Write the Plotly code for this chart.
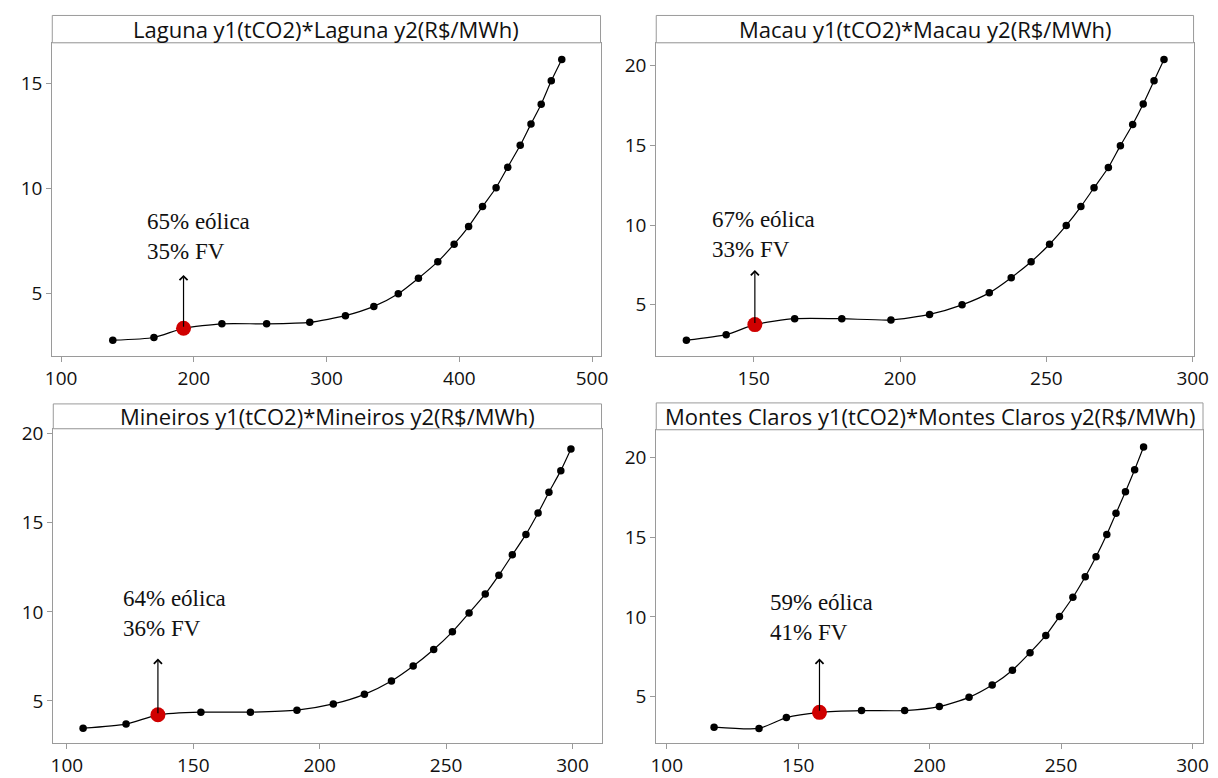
import plotly.graph_objects as go

# ---------------- data ----------------
titles = [
    "Laguna y1(tCO2)*Laguna y2(R$/MWh)",
    "Macau y1(tCO2)*Macau y2(R$/MWh)",
    "Mineiros y1(tCO2)*Mineiros y2(R$/MWh)",
    "Montes Claros y1(tCO2)*Montes Claros y2(R$/MWh)",
]

laguna_x = [138.9, 169.9, 192.2, 221.1, 254.8, 287.3, 314.2, 335.6, 354.0, 369.2, 383.8,
            396.1, 407.0, 417.5, 427.7, 436.5, 445.9, 454.0, 461.7, 469.3, 477.2]
laguna_y = [2.76, 2.89, 3.33, 3.54, 3.54, 3.61, 3.93, 4.37, 4.97, 5.71, 6.50,
            7.33, 8.17, 9.13, 10.02, 11.00, 12.04, 13.06, 14.00, 15.11, 16.13]

macau_x = [127.0, 140.6, 150.4, 164.0, 180.1, 196.9, 210.1, 221.2, 230.5, 238.0, 244.8,
           251.1, 256.8, 261.8, 266.3, 271.2, 275.3, 279.5, 283.1, 286.8, 290.2]
macau_y = [2.78, 3.13, 3.76, 4.13, 4.13, 4.05, 4.40, 5.00, 5.75, 6.70, 7.70,
           8.80, 9.98, 11.16, 12.34, 13.61, 14.98, 16.31, 17.59, 19.05, 20.39]

mineiros_x = [106.4, 123.4, 136.0, 153.0, 172.6, 191.0, 205.4, 217.7, 228.4, 237.0, 245.1,
              252.5, 259.1, 265.5, 270.9, 276.2, 281.6, 286.4, 290.7, 295.4, 299.4]
mineiros_y = [3.47, 3.70, 4.22, 4.37, 4.37, 4.48, 4.83, 5.37, 6.12, 6.96, 7.89,
              8.88, 9.94, 11.00, 12.06, 13.20, 14.35, 15.55, 16.72, 17.93, 19.14]

montes_x = [118.0, 135.1, 145.5, 158.1, 174.1, 190.5, 203.7, 215.0, 223.8, 231.5, 238.2,
            244.2, 249.4, 254.5, 259.2, 263.3, 267.4, 270.9, 274.5, 278.0, 281.4]
montes_y = [3.09, 3.01, 3.69, 4.02, 4.13, 4.13, 4.38, 4.96, 5.73, 6.66, 7.76,
            8.84, 10.03, 11.23, 12.52, 13.77, 15.16, 16.49, 17.84, 19.23, 20.65]

highlight_index = [2, 2, 2, 3]
mix_labels = ["65% eólica<br>35% FV", "67% eólica<br>33% FV",
              "64% eólica<br>36% FV", "59% eólica<br>41% FV"]
arrow_top = [5.87, 7.18, 7.38, 7.39]
label_x = [163.5, 135.2, 121.5, 138.6]
label_y = [7.68, 9.41, 9.90, 9.99]

x_ranges = [[93.3, 506.4], [116.7, 300.3], [94.6, 311.5], [96.0, 304.0]]
y_ranges = [[2.0, 16.92], [1.78, 21.43], [2.63, 20.28], [2.09, 21.73]]
x_ticks = [[100, 200, 300, 400, 500], [150, 200, 250, 300],
           [100, 150, 200, 250, 300], [100, 150, 200, 250, 300]]
y_ticks = [[5, 10, 15], [5, 10, 15, 20], [5, 10, 15, 20], [5, 10, 15, 20]]

series_x = [laguna_x, macau_x, mineiros_x, montes_x]
series_y = [laguna_y, macau_y, mineiros_y, montes_y]

# ---------------- layout geometry ----------------
W, H = 1218, 778
# effective drawn paper in the photographed page (measured): origin and size
OX, OY, PW, PH = 1.5, 8.0, 1202.0, 762.0


def fx(px):
    return (px - OX) / PW


def fy(py):
    return 1 - (py - OY) / PH


# target pixel boxes: (left, right, plot_top(strip bottom), plot_bottom, strip_top)
boxes = [
    (47, 598, 43, 358, 15.5),
    (654, 1194, 43, 358, 15.5),
    (48, 599, 431, 747, 406),
    (654, 1205, 432, 747, 405),
]

AX_COLOR = "#9a9a9a"
SANS = "Open Sans, Noto Sans, sans-serif"
TICK_FONT = dict(family=SANS, size=19, color="#111111")

fig = go.Figure()
shapes = []
annotations = []

for i in range(4):
    xs, ys = series_x[i], series_y[i]
    xa = "x" if i == 0 else f"x{i+1}"
    ya = "y" if i == 0 else f"y{i+1}"
    fig.add_trace(go.Scatter(
        x=xs, y=ys, mode="lines+markers", xaxis=xa, yaxis=ya,
        line=dict(color="black", width=1.2, shape="spline", smoothing=0.6),
        marker=dict(color="black", size=7.5), showlegend=False, hoverinfo="x+y"))
    k = highlight_index[i]
    fig.add_trace(go.Scatter(
        x=[xs[k]], y=[ys[k]], mode="markers", xaxis=xa, yaxis=ya,
        marker=dict(color="#d00000", size=15), showlegend=False))

    l, r, pt, pb, st = boxes[i]
    xd = [max(0, fx(l)), min(1, fx(r))]
    yd = [max(0, fy(pb)), min(1, fy(pt))]
    axis_common = dict(showline=True, linecolor=AX_COLOR, linewidth=1, mirror=True,
                       showgrid=False, zeroline=False, ticks="outside", ticklen=5,
                       tickcolor=AX_COLOR, tickfont=TICK_FONT)
    fig.update_layout(**{
        ("xaxis" if i == 0 else f"xaxis{i+1}"): dict(
            domain=xd, range=x_ranges[i], tickvals=x_ticks[i], anchor=ya, **axis_common),
        ("yaxis" if i == 0 else f"yaxis{i+1}"): dict(
            domain=yd, range=y_ranges[i], tickvals=y_ticks[i], anchor=xa, **axis_common),
    })

    # title strip
    shapes.append(dict(type="rect", xref="paper", yref="paper",
                       x0=xd[0], x1=xd[1], y0=yd[1], y1=min(1, fy(st)),
                       line=dict(color=AX_COLOR, width=1), fillcolor="white"))
    annotations.append(dict(xref="paper", yref="paper", x=(xd[0] + xd[1]) / 2,
                            y=(yd[1] + min(1, fy(st))) / 2, text=titles[i], showarrow=False,
                            xanchor="center", yanchor="middle",
                            font=dict(family=SANS, size=22, color="#111111")))
    # arrow from highlighted point upward
    annotations.append(dict(xref=xa, yref=ya, axref=xa, ayref=ya,
                            x=xs[k], y=arrow_top[i], ax=xs[k], ay=ys[k],
                            showarrow=True, arrowhead=4, arrowsize=1.3, arrowwidth=1.2,
                            arrowcolor="black", text="", standoff=0, startstandoff=0))
    # mix label
    annotations.append(dict(xref=xa, yref=ya, x=label_x[i], y=label_y[i],
                            text=mix_labels[i], showarrow=False, xanchor="left",
                            yanchor="middle", align="left",
                            font=dict(family="Liberation Serif, Times New Roman, serif",
                                      size=23, color="#111111")))

fig.update_layout(width=W, height=H, autosize=False,
                  margin=dict(l=0, r=0, t=0, b=0, pad=0),
                  plot_bgcolor="white", paper_bgcolor="white",
                  shapes=shapes, annotations=annotations)

fig.write_html("out.html", config={"displayModeBar": False},
               post_script="document.body.style.margin='0';"
                           "document.body.style.overflow='hidden';")
